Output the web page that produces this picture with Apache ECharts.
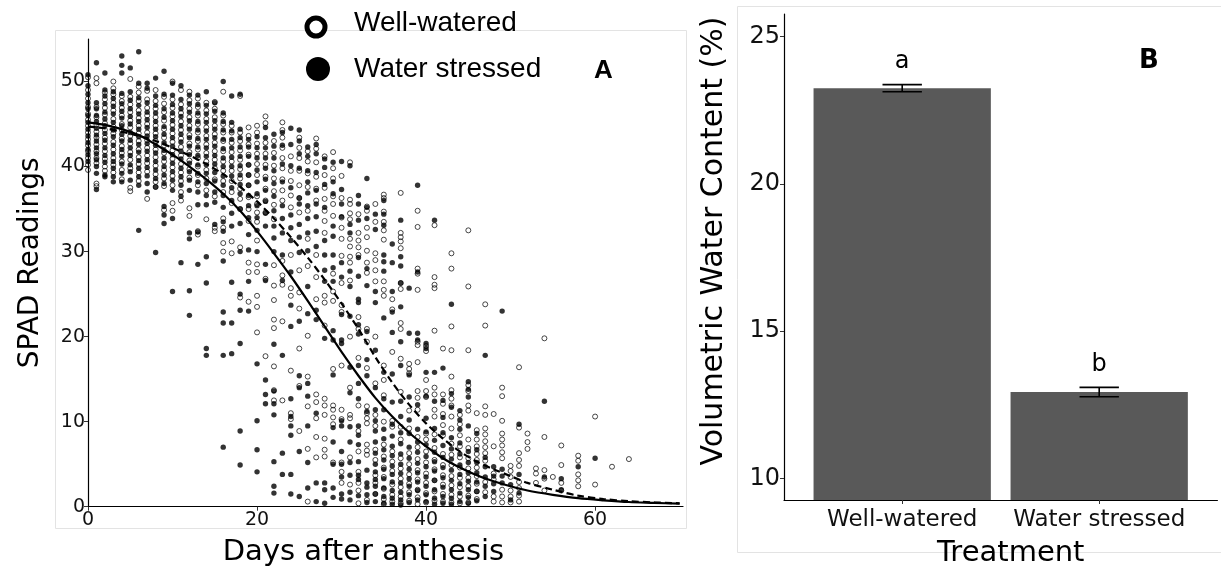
<!DOCTYPE html>
<html>
<head>
<meta charset="utf-8">
<script src="https://cdn.jsdelivr.net/npm/echarts@6/dist/echarts.min.js"></script>
<style>
  html, body { margin: 0; padding: 0; background: #ffffff; }
  #chart { width: 1221px; height: 573px; }
</style>
</head>
<body>
<div id="chart"></div>
<script>
// ---- Panel A: SPAD readings by day after anthesis ----
const dayTicks = [0, 20, 40, 60];
const spadTicks = [0, 10, 20, 30, 40, 50];

// SPAD readings per day (index = days after anthesis), well-watered plants
const wellWateredByDay = [
  [50.5,49,48,47,46.2,45.5,44.8,44,43.2,42.5,41.8,41,40.2,39.6],
  [50.4,49.8,47,45.8,44.9,44.1,43.4,42.6,41.8,41,40.4,38,37.7],
  [48.7,47.9,46.9,46.1,45.1,44.3,43.4,42.7,41.8,40.9,40,39.5],
  [50,49.2,48.5,47.5,46.6,45.6,44.7,43.9,42.9,42,41,40.2,39.3],
  [48.3,47.7,46.9,46,45,44.3,43.3,42.4,41.6,40.6,39.6,38.5],
  [50.3,48.2,47.3,46.4,45.4,44.6,43.6,42.7,41.7,40.8,39.8,37.5,37.1],
  [49.4,48.7,47.7,46.6,45.7,44.8,43.9,43,42,41.1,40.3,39.3,38.3],
  [48.9,47.9,46.9,46,45,44,43.1,42.2,41.3,40.4,39.4,36.2],
  [49,47.7,46.8,45.8,44.8,43.9,43,42,41.1,40.1,39.1,38.2,37.6],
  [48.2,47.4,46.4,45.4,44.4,43.4,42.5,41.6,40.6,39.6,38.6,37.7,34.9],
  [50,47.9,46.9,45.9,44.9,43.9,42.9,41.9,40.9,39.9,38.9,37.8,35.7,34.8],
  [49,47.3,46.3,45.3,44.3,43.3,42.3,41.3,40.3,39.3,38.3,37,36],
  [48.8,47.8,46.8,45.8,44.8,43.7,42.7,41.7,40.7,39.7,38.7,35.1,34.2],
  [48,47,46,45,44,43,42,41,40,39,37.8,32.4,32],
  [47.5,46.6,45.6,44.6,43.6,42.6,41.6,40.6,39.6,38.6,37.2,33.8],
  [47.6,46.8,45.8,44.8,43.8,42.8,41.8,40.8,39.8,38.5,36.5,32.8,32.4],
  [48.8,46,45,44,43,41.8,40.6,39.5,38.3,37,33.9,32.8,31,30],
  [44.8,44,42.8,41.7,40.6,39.5,38.3,37,35.7,31.2,29.8],
  [48.3,44,43,41.9,40.8,39.7,38.6,37.4,36.2,35,30.5,24.6],
  [44.6,43.6,42.6,41.4,40.2,39,37.8,36.4,35,33.6,28.7,27.6,24.1],
  [44.8,44,42.7,41.5,40.3,39,36.5,35.6,34.6,33.5,31.3,28.5,27.6,24.8,23.5,20.5],
  [45.9,45.1,42.8,41.5,40.2,38.8,37.4,36,34.6,26.8,17.7],
  [43,41.6,40.1,38.6,37.1,35.5,33.8,28.4,26,24.3,22,21,16.5,13.7,12.5],
  [45.2,44.3,43.4,42.2,41,39.8,38.5,37.2,36,28.9,27.2,26.1,21.8,12.5],
  [41.2,39.5,38.3,36.6,35.2,29.6,25.7,24.8,16,11,10.3],
  [43.4,42.2,41,39.5,37.8,36.3,34.6,27.8,25.2,23.3,18.6,14.2,8.9],
  [41.8,40.6,39.2,37.6,34.8,31.5,28.3,20.1,15.3,11.8,6.8,0.6],
  [43.3,42.1,40.5,38.8,37.4,36,29.6,27,24.4,13.2,12.3,10.4,8.2,5.8],
  [41.2,39,37.5,36.2,34.8,33.6,32.2,24.8,24,21.3,12.7,11.9,10.8,8,6.7,5.9],
  [41.7,39.8,38.6,36.5,35.6,34.2,27.4,25.3,24.2,16.2,11.9,11.4,10.5,9.7,5.2],
  [38.9,36.3,34,32.8,31.5,29.5,26.3,23.7,22.9,16.6,11.4,10.3,5.2,4.1,2.8],
  [40.5,36.1,35.6,34.5,33.8,31.5,30.6,29.4,28.7,26.6,20,14,10.8,10.4,5.8,2.6],
  [34.4,32.2,31.3,30.5,29.6,22.3,20.9,17.5,11.9,8.9,6.5,4.1,2.8,1.9,0.4],
  [35.3,34.8,32.8,31.7,30.1,28.7,27.5,20.9,19.4,16.3,11.8,11,10.4,9.8,7.3,6.6,6.1,0.8],
  [35.6,33.5,29.8,29,27.8,26.5,20,14.5,10.8,9.5,6.7,5.5,3.7,2.8,1.5],
  [36.7,36.3,34.7,33.5,32.5,31.4,26.5,25.5,24.8,16.6,14.9,13.1,10,7.3,5.9,4.6,3.5,2.1,0.9,0.3],
  [24.4,23.2,18.2,10.1,9.4,6.5,5.3,4.2,2.6,1.4,0.6],
  [36.9,32.2,31.7,31.2,30.4,26.3,25.6,21.6,20.9,17.4,13.5,9.4,7.9,5.7,4.5,3.3,2.3,1.2,0.4],
  [16.8,16.2,15.7,11.3,9.2,6.3,5,3.8,2.7,1.7,0.7],
  [34.8,32.9,28,27.4,25.5,19.4,19,17,13.6,12.8,11.4,8.2,7,5.6,4.3,3.2,2,1.1,0.3],
  [18.9,18.3,14.9,13.6,12.9,8.6,7.9,6.5,5.2,3.9,2.8,1.6,0.5],
  [33.1,27,26.1,25.7,20.7,14,13.2,11.4,10.6,8.5,6.9,5.5,4.4,3.1,1.8,0.7],
  [18.6,13.2,12.1,10.9,9.6,8.4,6.2,4.9,3.7,2.6,1.5,0.6],
  [29.8,28,21.2,18.4,15.3,13.7,12.7,11.9,10.6,9.2,7.4,6.1,4.9,3.6,2.5,1.4,0.5],
  [10.8,9.7,8.4,7.1,5.8,4.6,3.4,2.3,1.2,0.4],
  [32.5,25.9,18.4,14.3,13.6,11.9,11.3,7.9,6.9,5.7,4.5,3.4,2.4,1.3,0.5],
  [11,9,7.9,7.1,6.2,5.5,4.6,3.6,2.7,1.8,0.9],
  [23.8,21.3,11.8,10.8,9.2,8.5,7.7,7,6.3,5.4,2.9,1.7],
  [10.9,7.1,3.9,3.2,1.2,0.6],
  [14,13,10.1,8.6,7.9,7.2,6.4,5.7,2,1.2,0.5],
  [4.8,4.2,3.5,1.9,1.2,0.5],
  [16.4,9.3,6.3,5.5,4.8,2.9,2.2,1.3,0.6],
  [8.6,7.6,6.8],
  [4.5,3.9,2.8],
  [19.8,8.2,4.3,3.3,1.9],
  [3.5],
  [7.2,4.9,2.8,1.9],
  [],
  [6,5.4,3.8,3.1,2.4],
  [],
  [10.6,2.6],
  [],
  [4.7],
  [],
  [5.6]
];

// SPAD readings per day (index = days after anthesis), water-stressed plants
const waterStressedByDay = [
  [50.8,49.5,48.5,47.5,46.8,46,45.2,44.4,43.6,42.8,42,41.4,40.6],
  [52.2,47.5,46.8,46,45.3,44.5,43.7,43,42.2,41.5,40.8,40,39.2,37.3],
  [51,49,48.3,47.4,46.4,45.6,44.8,43.9,43.1,42.2,41.3,40.5,39,38.8],
  [48.8,48,47.1,46.2,45.2,44.3,43.5,42.5,41.5,40.6,39.8,38.8,38.2],
  [53,51.9,51,48.6,47.4,46.5,45.7,44.8,43.8,43,42,41.2,40.3,39.2,38.2],
  [51.6,48.8,47.8,46.8,45.9,45,44,43.1,42.2,41.3,40.2,39.4,38.4],
  [53.5,49.8,48.1,47.2,46.2,45.3,44.4,43.5,42.6,41.7,40.7,39.8,38.8,37.8,32.5],
  [49.8,49.2,47.5,46.4,45.5,44.6,43.6,42.7,41.8,40.8,39.9,38.9,38,37],
  [50.4,48.3,47.2,46.3,45.3,44.4,43.5,42.5,41.6,40.6,39.6,38.6,37.6,29.9],
  [51.2,48.5,46.8,45.8,44.7,43.8,42.8,41.9,41,40,39,38,35.3,34.3,33.3],
  [49.8,48.4,47.3,46.3,45.4,44.4,43.4,42.4,41.4,40.4,39.4,38.4,37.2,33.9,25.3],
  [49.5,47.9,46.8,45.9,44.8,43.8,42.9,41.8,40.9,39.8,38.8,37.8,36.5,28.7],
  [48.4,47.4,46.4,45.4,44.4,43.4,42.4,41.4,40.4,39.4,38.4,37.2,32.2,31.5,25.4,22.5],
  [48.4,47.3,46.3,45.3,44.3,43.3,42.3,41.3,40.2,39.2,38.2,37,35.5,32.3,28.5],
  [48.8,47.2,46.2,45.2,44.2,43.2,42.2,41.2,40.2,39.2,38,36.6,35.5,29.4,26.3,18.6,17.8],
  [47.5,46.5,45.4,44.4,43.4,42.4,41.3,40.3,39.3,38.3,37,35.8,33.2],
  [50,46.3,45.3,44.3,43.2,42.1,41,40,38.9,37.8,36.6,35.2,33.5,32.4,28.9,22.9,21.6,17.8,7],
  [48.3,45.2,44.2,43.2,42.2,41.1,40,38.9,37.5,36,34.5,33,26.4,21.6,18],
  [48.5,44.4,43.4,42.3,41.2,40.1,39,37.9,36.8,35,33.3,30,25,23.1,19.2,8.9,4.9],
  [43.2,42.3,41.2,40.2,39,37.8,36.6,35.4,34,32,30.2,26.5,23],
  [43.5,42.2,41,39.6,38.2,36.8,35.4,34,32.5,30,16.8,10.1,6.7,4.1],
  [44.6,43.4,42.2,41,39.8,38.5,37.2,35.9,34.5,33,28.5,26.6,14.9,13.2,12.1],
  [43.8,42.4,41,39.5,38,36.5,34.8,33,31.6,30,19.1,13.6,12.1,10.8,5.3,2.4,1.6],
  [44,42.5,40.3,38.2,35.4,33.9,32.2,29.6,26.6,17.8,6.3,3.8],
  [44.5,42.6,40.1,37.5,34.3,32.8,31.3,27.6,23.7,21.2,12.7,10.6,9.5,8.4,3.8,1.5],
  [44.3,43,41.5,39.8,36.3,35.6,33.2,31.7,29.9,21.8,15.4,14,6.5,1.2],
  [42.3,41.2,39.5,38.2,36.9,35.4,33.9,32.2,30.1,25.9,22.7,14.5,13,9.5,5.2,2.2],
  [42.6,41.5,39.3,37.2,35.6,34.1,32.4,30.6,23.1,22,11,2.8,0.6],
  [40.9,39.9,37.9,35.2,31.3,29.6,27.8,26.5,19.8,2.8,2,0.4],
  [40.5,38.2,36.8,33,31.8,29.6,28.1,26.5,20.7,19.6,15.5,9.3,7.6,5,2.2,1.1],
  [40.6,37.3,35.6,34.1,28.7,27,22.6,19.6,19.2,10.1,9.5,6.5,5,3.5,1.5,0.9],
  [40.1,33.2,32.2,27.7,25.9,22.4,16.4,13.4,9.4,7.6,5.2,3.7,1.7,0.8],
  [36.6,35.6,33.7,29.3,27.1,24.4,24,21.4,20.3,16.6,14.5,12.7,9.5,8.4,7.3,5.3,3.7,3.2,1.3],
  [38.6,35.2,33.9,28,26,20.6,17.3,15.4,11.2,4.3,2.8,2.3,1.4,0.5],
  [34.4,32.6,25.3,24,18.4,14,11.4,10.1,8.9,7.6,6.3,5,4.1,3.2,2.4,1.5,0.6],
  [36,34.4,33.1,29.6,28.8,27.7,22.2,15.8,12.7,11.4,9.1,8,6.7,5.5,4.4,3.3,2.2,1.2,0.4],
  [30.9,28.7,25.3,22.9,20.5,15.6,12.3,9.7,8.3,7.1,6,4.8,3.8,2.9,1.9,1,0.3],
  [33.7,29.4,28.3,26.3,23.5,19.4,16.6,12.4,10.6,8.7,7.4,6.2,5,3.9,2.8,1.7,0.8,0.2],
  [25.7,20.4,15.5,12.9,10.2,8.6,7,5.7,4.4,3.3,2.4,1.4,0.5],
  [37.8,27.6,20.4,19.6,12,9.1,7.6,6.4,5.1,4,2.9,1.9,0.8],
  [19.2,18.6,15.8,13,10.4,8.8,7.3,5.9,4.7,3.5,2.4,1.4,0.6],
  [33.7,15.8,12.4,9.2,7.8,6.4,5.3,4.2,3.1,2,1,0.3],
  [16.3,12.5,10.5,8.7,7.2,5.8,4.6,3.4,2.3,1.2,0.4],
  [23.8,13.3,11.7,8.1,6.8,5.6,4.3,3.1,2,1,0.3],
  [11.3,10.2,9.1,7.5,6.2,4.9,3.8,2.7,1.6,0.6],
  [14.7,13.8,12.9,9.5,6.5,5.2,4,3,2,1.1,0.4],
  [8.6,6.7,5.2,4,2.9,1.8,0.7],
  [17.8,5.8,4.7,3.5,2.4,1.2],
  [4.7,3.6,2.7,1.8],
  [23,4.4,3.6,2.8],
  [2.6,0.8],
  [9.7,3.8,1.6],
  [],
  [],
  [12.4,3.5],
  [],
  [3.3,2],
  [],
  [4.7],
  [],
  [5.7]
];

// Fitted decline curves (SPAD vs days after anthesis)
const fitDays = [0,2,4,6,8,10,12,14,16,18,20,22,24,26,28,30,32,34,36,38,40,42,44,46,48,50,52,55,58,61,64,67,70];
const wellWateredFit = [44.7,44.5,44.1,43.6,43,42.2,41.3,40.3,39.1,37.6,35.9,33.9,31.7,29.3,26.7,23.9,20.9,17.6,14.6,12,9.8,8,6.5,5.3,4.4,3.6,2.8,2,1.3,0.9,0.65,0.5,0.4];
const waterStressedFit = [45.2,44.9,44.4,43.7,42.6,41.4,40,38.5,36.8,34.8,32.4,29.8,27.1,24.2,21.2,18.2,15.4,12.8,10.6,8.7,7.1,5.7,4.6,3.7,3,2.4,1.9,1.4,1,0.75,0.55,0.45,0.35];

// ---- Panel B: volumetric water content by treatment ----
const treatments = ['Well-watered', 'Water stressed'];
const vwcMean = [23.25, 12.93];
const vwcSE = [0.12, 0.16];
const vwcLetters = ['a', 'b'];
const vwcTicks = [10, 15, 20, 25];

const vwcAxisMin = 9.265;
const vwcAxisMax = 25.77;

const toPoints = byDay => byDay.flatMap((vals, day) => vals.map(v => [day, v]));
const pairs = (xs, ys) => xs.map((x, i) => [x, ys[i]]);

const fontSans = "'DejaVu Sans', 'Noto Sans', sans-serif";
const fontArial = "'Liberation Sans', Arial, sans-serif";

const chart = echarts.init(document.getElementById('chart'), null, { renderer: 'canvas' });

const option = {
  animation: false,
  backgroundColor: '#ffffff',
  grid: [
    { left: 88, top: 39, width: 595, height: 467.7 },
    { left: 784, top: 14, width: 433.4, height: 494 }
  ],
  xAxis: [
    {
      gridIndex: 0, type: 'value', min: 0, max: 70.4,
      name: 'Days after anthesis', nameLocation: 'middle', nameGap: 31,
      nameTextStyle: { fontFamily: fontSans, fontSize: 29, color: '#000', padding: [0, 44, 0, 0] },
      axisLine: { onZero: false, lineStyle: { color: '#000', width: 1.2 } },
      axisTick: { show: true, customValues: dayTicks, length: 4, lineStyle: { color: '#333' } },
      axisLabel: { customValues: dayTicks, fontFamily: fontSans, fontSize: 19, color: '#111', margin: 4 },
      splitLine: { show: false }
    },
    {
      gridIndex: 1, type: 'value', min: 0.4, max: 2.6,
      name: 'Treatment', nameLocation: 'middle', nameGap: 39,
      nameTextStyle: { fontFamily: fontSans, fontSize: 29, color: '#000', padding: [0, 0, 0, 20] },
      axisLine: { onZero: false, lineStyle: { color: '#000', width: 1.2 } },
      axisTick: { show: true, customValues: [1, 2], length: 4, lineStyle: { color: '#333' } },
      axisLabel: {
        customValues: [1, 2], fontFamily: fontSans, fontSize: 23, color: '#111', margin: 9,
        formatter: v => treatments[Math.round(v) - 1]
      },
      splitLine: { show: false }
    }
  ],
  yAxis: [
    {
      gridIndex: 0, type: 'value', min: 0, max: 55,
      name: 'SPAD Readings', nameLocation: 'middle', nameGap: 43, nameRotate: 90,
      nameTextStyle: { fontFamily: fontSans, fontSize: 28, color: '#000', padding: [0, 0, 0, 20] },
      axisLine: { show: true, onZero: false, lineStyle: { color: '#000', width: 1.2 } },
      axisTick: { show: true, customValues: spadTicks, length: 4, lineStyle: { color: '#333' } },
      axisLabel: { customValues: spadTicks, fontFamily: fontSans, fontSize: 19, color: '#111', margin: 3 },
      splitLine: { show: false }
    },
    {
      gridIndex: 1, type: 'value', min: vwcAxisMin, max: vwcAxisMax,
      name: 'Volumetric Water Content (%)', nameLocation: 'middle', nameGap: 55, nameRotate: 90,
      nameTextStyle: { fontFamily: fontSans, fontSize: 30, color: '#000', padding: [0, 0, 0, 32] },
      axisLine: { show: true, onZero: false, lineStyle: { color: '#000', width: 1.2 } },
      axisTick: { show: true, customValues: vwcTicks, length: 4, lineStyle: { color: '#333' } },
      axisLabel: { customValues: vwcTicks, fontFamily: fontSans, fontSize: 24, color: '#111', margin: 4 },
      splitLine: { show: false }
    }
  ],
  graphic: [
    // panel frames
    { type: 'rect', silent: true, z: -10, shape: { x: 55.5, y: 30.5, width: 631, height: 498 },
      style: { fill: 'none', stroke: '#e3e3e3', lineWidth: 1 } },
    { type: 'rect', silent: true, z: -10, shape: { x: 737.5, y: 6.5, width: 500, height: 546 },
      style: { fill: 'none', stroke: '#e3e3e3', lineWidth: 1 } },
    // key for panel A
    { type: 'circle', silent: true, shape: { cx: 316, cy: 27, r: 9 },
      style: { fill: '#ffffff', stroke: '#000', lineWidth: 5 } },
    { type: 'circle', silent: true, shape: { cx: 318, cy: 69, r: 12 },
      style: { fill: '#000' } },
    { type: 'text', silent: true, x: 354, y: 23,
      style: { text: treatments[0], fontFamily: fontArial, fontSize: 28, fill: '#000', verticalAlign: 'middle' } },
    { type: 'text', silent: true, x: 354, y: 69,
      style: { text: treatments[1], fontFamily: fontArial, fontSize: 28, fill: '#000', verticalAlign: 'middle' } },
    // panel letters
    { type: 'text', left: 594, top: 58, style: { text: 'A', fontFamily: fontArial, fontWeight: 'bold', fontSize: 26, fill: '#000' } },
    { type: 'text', left: 1139, top: 48, style: { text: 'B', fontFamily: fontSans, fontWeight: 'bold', fontSize: 26, fill: '#000' } }
  ],
  series: [
    {
      name: 'Well-watered', type: 'scatter', xAxisIndex: 0, yAxisIndex: 0,
      data: toPoints(wellWateredByDay), symbol: 'circle', symbolSize: 5, clip: false,
      itemStyle: { color: 'rgba(255,255,255,0)', borderColor: '#000', borderWidth: 0.9 }
    },
    {
      name: 'Water stressed', type: 'scatter', xAxisIndex: 0, yAxisIndex: 0,
      data: toPoints(waterStressedByDay), symbol: 'circle', symbolSize: 5.4, clip: false,
      itemStyle: { color: '#000' }
    },
    {
      name: 'Well-watered fit', type: 'line', xAxisIndex: 0, yAxisIndex: 0,
      data: pairs(fitDays, wellWateredFit), smooth: 0.3, showSymbol: false, z: 5,
      lineStyle: { color: '#000', width: 2.2, type: [7, 4] }
    },
    {
      name: 'Water stressed fit', type: 'line', xAxisIndex: 0, yAxisIndex: 0,
      data: pairs(fitDays, waterStressedFit), smooth: 0.3, showSymbol: false, z: 5,
      lineStyle: { color: '#000', width: 2.2 }
    },
    {
      name: 'VWC', type: 'custom', xAxisIndex: 1, yAxisIndex: 1,
      data: treatments.map((t, i) => [i + 1, vwcMean[i], vwcSE[i]]),
      renderItem: (params, api) => {
        const x = api.value(0), mean = api.value(1);
        const tl = api.coord([x - 0.45, mean]);
        const br = api.coord([x + 0.45, vwcAxisMin]);
        return {
          type: 'rect',
          shape: { x: tl[0], y: tl[1], width: br[0] - tl[0], height: br[1] - tl[1] },
          style: { fill: '#595959' }
        };
      }
    },
    {
      name: 'VWC error', type: 'custom', xAxisIndex: 1, yAxisIndex: 1, z: 4,
      data: treatments.map((t, i) => [i + 1, vwcMean[i], vwcSE[i]]),
      renderItem: (params, api) => {
        const x = api.value(0), mean = api.value(1), se = api.value(2);
        const top = api.coord([x, mean + se]);
        const bot = api.coord([x, mean - se]);
        const capL = api.coord([x - 0.1, mean])[0];
        const capR = api.coord([x + 0.1, mean])[0];
        const stroke = { stroke: '#000', lineWidth: 1.6 };
        return {
          type: 'group',
          children: [
            { type: 'line', shape: { x1: top[0], y1: top[1], x2: bot[0], y2: bot[1] }, style: stroke },
            { type: 'line', shape: { x1: capL, y1: top[1], x2: capR, y2: top[1] }, style: stroke },
            { type: 'line', shape: { x1: capL, y1: bot[1], x2: capR, y2: bot[1] }, style: stroke },
            { type: 'text', x: top[0], y: top[1] - 23,
              style: { text: vwcLetters[params.dataIndex], fontFamily: fontSans, fontSize: 24, fill: '#000', align: 'center', verticalAlign: 'middle' } }
          ]
        };
      }
    }
  ]
};

chart.setOption(option);
</script>
</body>
</html>
